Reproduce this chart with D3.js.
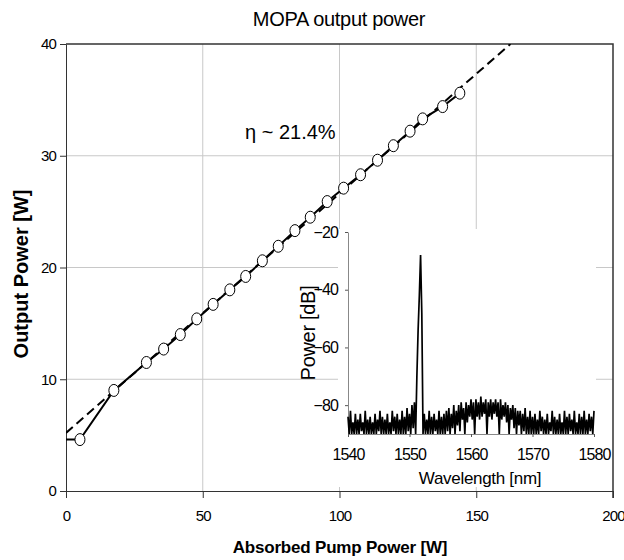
<!DOCTYPE html>
<html>
<head>
<meta charset="utf-8">
<script src="https://cdn.jsdelivr.net/npm/d3@7"></script>
<style>
  body { margin: 0; background: #fff; }
  svg { font-family: "Liberation Sans", Arial, sans-serif; }
</style>
</head>
<body>
<svg width="624" height="560"></svg>
<script>
// main data: absorbed pump power vs output power
const pumpPower = [0, 5.1, 17.5, 29.4, 35.7, 41.8, 47.8, 53.8, 59.9, 65.7, 71.8, 77.6, 83.7, 89.3,
  95.5, 101.5, 107.7, 113.9, 119.7, 125.8, 130.4, 137.7, 144.0];
const outputPower = [4.6, 4.6, 9.0, 11.5, 12.7, 14.0, 15.4, 16.7, 18.0, 19.2, 20.6, 21.9, 23.3, 24.5,
  25.9, 27.1, 28.3, 29.6, 30.9, 32.2, 33.3, 34.4, 35.6];
// linear fit (slope efficiency)
const fitX = [0, 162.5];
const fitY = [5.2, 40];
const xTicks = [0, 50, 100, 150, 200];
const yTicks = [0, 10, 20, 30, 40];

// inset spectrum, 0.2 nm steps from 1540 nm
const specStart = 1540;
const specStep = 0.2;
const specDb = [
  -84, -90, -82, -90, -86, -90, -83, -90, -85, -90,
  -83, -89, -86, -90, -82, -90, -85, -90, -84, -90,
  -86, -90, -83, -90, -85, -89, -82, -90, -84, -90,
  -85, -90, -83, -90, -86, -90, -82, -89, -84, -90,
  -83, -90, -85, -90, -82, -90, -84, -90, -81, -89,
  -83, -90, -80, -88, -79,
  -90, -70, -54, -42, -28, -48, -90,
  -83, -90, -85, -90, -82, -90, -84, -90,
  -83, -89, -85, -90, -82, -90, -84, -90, -83, -90,
  -82, -89, -81, -90, -83, -88, -80, -90, -82, -87,
  -80, -89, -79, -85, -81, -90, -79, -86, -80, -84,
  -78, -85, -79, -90, -78, -84, -79, -85, -77, -84,
  -79, -83, -78, -90, -79, -84, -78, -85, -79, -83,
  -78, -84, -79, -90, -78, -85, -80, -84, -79, -86,
  -80, -90, -81, -85, -80, -88, -81, -90, -82, -87,
  -82, -90, -83, -89, -81, -90, -84, -90, -82, -90,
  -84, -90, -83, -90, -85, -90, -82, -89, -84, -90,
  -85, -90, -83, -90, -86, -89, -82, -90, -84, -90,
  -85, -90, -83, -90, -86, -90, -82, -90, -84, -90,
  -83, -89, -85, -90, -82, -90, -86, -90, -83, -90,
  -84, -90, -82, -90, -85, -90, -83, -89, -84, -90,
  -82
];
const insetXTicks = [1540, 1550, 1560, 1570, 1580];
const insetYTicks = [-20, -40, -60, -80];

const svg = d3.select('svg');

const x = d3.scaleLinear().domain([0, 200]).range([66, 613]);
const y = d3.scaleLinear().domain([0, 40]).range([491, 44]);

// grid
svg.append('g')
  .selectAll('line')
  .data(xTicks.slice(1, -1))
  .enter().append('line')
  .attr('x1', d => x(d)).attr('x2', d => x(d))
  .attr('y1', y(0)).attr('y2', y(40))
  .attr('stroke', '#c8c8c8');
svg.append('g')
  .selectAll('line')
  .data(yTicks.slice(1, -1))
  .enter().append('line')
  .attr('x1', x(0)).attr('x2', x(200))
  .attr('y1', d => y(d)).attr('y2', d => y(d))
  .attr('stroke', '#c8c8c8');

// frame top / right
svg.append('path')
  .attr('d', `M${x(0)},${y(40)}H${x(200)}V${y(0) + 7}`)
  .attr('fill', 'none')
  .attr('stroke', '#333')
  .attr('stroke-width', 1.5);

// axes
const yAxis = svg.append('g')
  .attr('transform', `translate(${x(0)},0)`)
  .call(d3.axisLeft(y).tickValues(yTicks).tickSize(6).tickSizeOuter(0).tickPadding(4));
const xAxis = svg.append('g')
  .attr('transform', `translate(0,${y(0)})`)
  .call(d3.axisBottom(x).tickValues(xTicks).tickSize(7).tickSizeOuter(0).tickPadding(12));
[yAxis, xAxis].forEach(ax => {
  ax.select('.domain').attr('stroke', '#333');
  ax.selectAll('.tick line').attr('stroke', '#333');
  ax.selectAll('text')
    .attr('font-family', '"Liberation Sans", Arial, sans-serif')
    .attr('font-size', 15)
    .attr('letter-spacing', -0.8)
    .attr('fill', '#000');
});

// fit line (dashed)
svg.append('defs').append('clipPath').attr('id', 'plotClip')
  .append('rect').attr('x', x(0)).attr('y', y(40)).attr('width', x(200) - x(0)).attr('height', y(0) - y(40));

const fitLine = d3.line().x((d, i) => x(fitX[i])).y(d => y(d));
svg.append('path')
  .attr('clip-path', 'url(#plotClip)')
  .attr('d', fitLine(fitY))
  .attr('fill', 'none')
  .attr('stroke', '#000')
  .attr('stroke-width', 2)
  .attr('stroke-dasharray', '9,5');

// measured data
const dataLine = d3.line().x((d, i) => x(pumpPower[i])).y(d => y(d));
svg.append('path')
  .attr('d', dataLine(outputPower))
  .attr('fill', 'none')
  .attr('stroke', '#000')
  .attr('stroke-width', 2);

svg.append('g')
  .selectAll('ellipse')
  .data(outputPower.slice(1))
  .enter().append('ellipse')
  .attr('cx', (d, i) => x(pumpPower[i + 1]))
  .attr('cy', d => y(d))
  .attr('rx', 5)
  .attr('ry', 6)
  .attr('fill', '#fff')
  .attr('stroke', '#000')
  .attr('stroke-width', 1);

// annotation
svg.append('text')
  .attr('x', 245).attr('y', 139)
  .attr('font-size', 20)
  .attr('letter-spacing', 0)
  .text('η ~ 21.4%');

// titles
svg.append('text')
  .attr('x', 339).attr('y', 26)
  .attr('text-anchor', 'middle')
  .attr('font-size', 20)
  .attr('letter-spacing', -0.3)
  .text('MOPA output power');

svg.append('text')
  .attr('x', 340).attr('y', 553)
  .attr('text-anchor', 'middle')
  .attr('font-size', 17)
  .attr('font-weight', 'bold')
  .attr('letter-spacing', -0.2)
  .text('Absorbed Pump Power [W]');

svg.append('text')
  .attr('transform', 'translate(28,274) rotate(-90)')
  .attr('text-anchor', 'middle')
  .attr('font-size', 20)
  .attr('font-weight', 'bold')
  .text('Output Power [W]');

// ---- inset spectrum ----
svg.append('rect')
  .attr('x', 338).attr('y', 229)
  .attr('width', 258).attr('height', 258)
  .attr('fill', '#fff');

const ix = d3.scaleLinear().domain([1540, 1580]).range([348, 594]);
const iy = d3.scaleLinear().domain([-90, -20]).range([434, 232]);

const iyAxis = svg.append('g')
  .attr('transform', `translate(${ix(1540)},0)`)
  .call(d3.axisLeft(iy).tickValues(insetYTicks).tickSize(3).tickSizeOuter(0).tickPadding(7));
const ixAxis = svg.append('g')
  .attr('transform', `translate(0,${iy(-90)})`)
  .call(d3.axisBottom(ix).tickValues(insetXTicks).tickFormat(d3.format('d'))
    .tickSize(3).tickSizeOuter(0).tickPadding(12));
[iyAxis, ixAxis].forEach(ax => {
  ax.select('.domain').attr('stroke', '#888');
  ax.selectAll('.tick line').attr('stroke', '#555');
  ax.selectAll('text')
    .attr('font-family', '"Liberation Sans", Arial, sans-serif')
    .attr('font-size', 16)
    .attr('letter-spacing', -0.9)
    .attr('fill', '#000');
});

const specLine = d3.line()
  .x((d, i) => ix(specStart + i * specStep))
  .y(d => iy(d));
svg.append('path')
  .attr('d', specLine(specDb))
  .attr('fill', 'none')
  .attr('stroke', '#000')
  .attr('stroke-width', 1.7)
  .attr('stroke-linejoin', 'miter');

svg.append('text')
  .attr('x', 480).attr('y', 484)
  .attr('text-anchor', 'middle')
  .attr('font-size', 17)
  .attr('letter-spacing', -0.3)
  .text('Wavelength [nm]');

svg.append('text')
  .attr('transform', 'translate(315,333) rotate(-90)')
  .attr('text-anchor', 'middle')
  .attr('font-size', 20)
  .attr('letter-spacing', -0.3)
  .text('Power [dB]');
</script>
</body>
</html>
